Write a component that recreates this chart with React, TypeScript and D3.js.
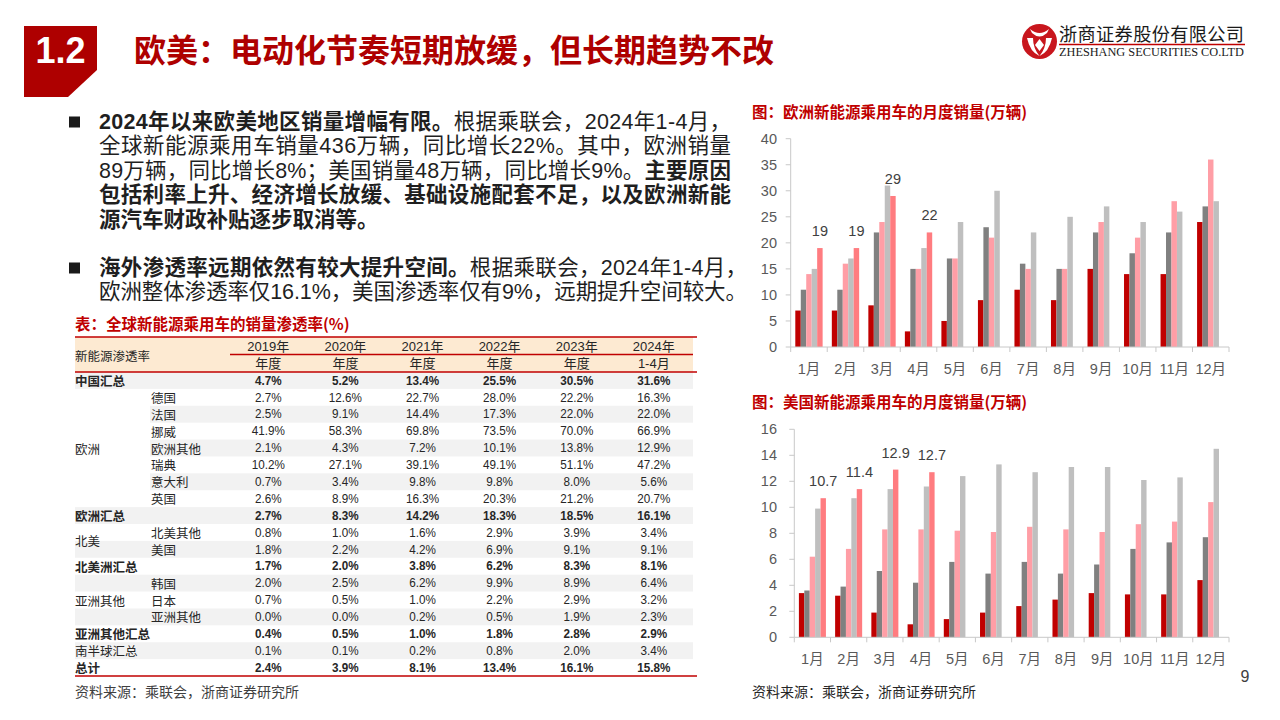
import React from 'react';
import * as d3 from 'd3';

// ---------- data ----------
const months = ["1月", "2月", "3月", "4月", "5月", "6月", "7月", "8月", "9月", "10月", "11月", "12月"];
const seriesKeys = ["2020", "2021", "2022", "2023", "2024"];
const seriesColors = ["#C00000", "#808080", "#FF9EA6", "#BFBFBF", "#FF7C80"];

const eu2020 = [7, 7, 8, 3, 5, 9, 11, 9, 15, 14, 14, 24];
const eu2021 = [11, 11, 22, 15, 17, 23, 16, 15, 22, 18, 22, 27];
const eu2022 = [14, 16, 24, 15, 17, 21, 15, 15, 24, 21, 28, 36];
const eu2023 = [15, 17, 31, 19, 24, 30, 22, 25, 27, 24, 26, 28];
const eu2024 = [19, 19, 29, 22];
const euTicks = [0, 5, 10, 15, 20, 25, 30, 35, 40];

const us2020 = [3.4, 3.2, 1.9, 1.0, 1.4, 1.9, 2.4, 2.9, 3.4, 3.3, 3.3, 4.4];
const us2021 = [3.6, 3.9, 5.1, 4.2, 5.8, 4.9, 5.8, 4.9, 5.6, 6.8, 7.3, 7.7];
const us2022 = [6.2, 6.8, 8.3, 8.3, 8.2, 8.1, 8.5, 8.3, 8.1, 8.7, 8.9, 10.4];
const us2023 = [9.9, 10.7, 11.4, 11.6, 12.4, 13.3, 12.7, 13.1, 13.1, 12.1, 12.3, 14.5];
const us2024 = [10.7, 11.4, 12.9, 12.7];
const usTicks = [0, 2, 4, 6, 8, 10, 12, 14, 16];

const tableYears = ["2019年", "2020年", "2021年", "2022年", "2023年", "2024年"];
const tablePeriods = ["年度", "年度", "年度", "年度", "年度", "1-4月"];
const tableRowNames = ["中国汇总", "德国", "法国", "挪威", "欧洲其他", "瑞典", "意大利", "英国", "欧洲汇总", "北美其他", "美国", "北美洲汇总", "韩国", "日本", "亚洲其他", "亚洲其他汇总", "南半球汇总", "总计"];
const tableValues = [
  ["4.7%", "5.2%", "13.4%", "25.5%", "30.5%", "31.6%"],
  ["2.7%", "12.6%", "22.7%", "28.0%", "22.2%", "16.3%"],
  ["2.5%", "9.1%", "14.4%", "17.3%", "22.0%", "22.0%"],
  ["41.9%", "58.3%", "69.8%", "73.5%", "70.0%", "66.9%"],
  ["2.1%", "4.3%", "7.2%", "10.1%", "13.8%", "12.9%"],
  ["10.2%", "27.1%", "39.1%", "49.1%", "51.1%", "47.2%"],
  ["0.7%", "3.4%", "9.8%", "9.8%", "8.0%", "5.6%"],
  ["2.6%", "8.9%", "16.3%", "20.3%", "21.2%", "20.7%"],
  ["2.7%", "8.3%", "14.2%", "18.3%", "18.5%", "16.1%"],
  ["0.8%", "1.0%", "1.6%", "2.9%", "3.9%", "3.4%"],
  ["1.8%", "2.2%", "4.2%", "6.9%", "9.1%", "9.1%"],
  ["1.7%", "2.0%", "3.8%", "6.2%", "8.3%", "8.1%"],
  ["2.0%", "2.5%", "6.2%", "9.9%", "8.9%", "6.4%"],
  ["0.7%", "0.5%", "1.0%", "2.2%", "2.9%", "3.2%"],
  ["0.0%", "0.0%", "0.2%", "0.5%", "1.9%", "2.3%"],
  ["0.4%", "0.5%", "1.0%", "1.8%", "2.8%", "2.9%"],
  ["0.1%", "0.1%", "0.2%", "0.8%", "2.0%", "3.4%"],
  ["2.4%", "3.9%", "8.1%", "13.4%", "16.1%", "15.8%"],
];
const summaryRows = [0, 8, 11, 15, 16, 17];
const boldRows = [0, 8, 11, 15, 17];
const groupLabels = ["欧洲", "北美", "亚洲其他"];
const groupFrom = [1, 9, 12];
const groupTo = [7, 10, 14];

// ---------- styles ----------
const FONT = "'Liberation Sans', 'Noto Sans CJK SC', sans-serif";
const CJK = "'Noto Sans CJK SC', 'Liberation Sans', sans-serif";
const RED = "#C00000";
const TITLE_RED = "#AE0000";

type Seg = { t: string; b: boolean };
const para1: Seg[][] = [
  [{ t: "2024年以来欧美地区销量增幅有限。", b: true }, { t: "根据乘联会，2024年1-4月，", b: false }],
  [{ t: "全球新能源乘用车销量436万辆，同比增长22%。其中，欧洲销量", b: false }],
  [{ t: "89万辆，同比增长8%；美国销量48万辆，同比增长9%。", b: false }, { t: "主要原因", b: true }],
  [{ t: "包括利率上升、经济增长放缓、基础设施配套不足，以及欧洲新能", b: true }],
  [{ t: "源汽车财政补贴逐步取消等。", b: true }],
];
const para2: Seg[][] = [
  [{ t: "海外渗透率远期依然有较大提升空间。", b: true }, { t: "根据乘联会，2024年1-4月，", b: false }],
  [{ t: "欧洲整体渗透率仅16.1%，美国渗透率仅有9%，远期提升空间较大。", b: false }],
];

function TextLine({ segs, x, y, len }: { segs: Seg[]; x: number; y: number; len?: number }) {
  return (
    <text x={x} y={y} fontFamily={FONT} fontSize={21.5} fill="#1F1F1F" dominantBaseline="central"
      {...(len ? { textLength: len, lengthAdjust: "spacing" } : {})}>
      {segs.map((s, i) => (
        <tspan key={i} fontWeight={s.b ? 700 : 400}>{s.t}</tspan>
      ))}
    </text>
  );
}

type ChartProps = {
  left: number; right: number; zeroY: number; topY: number; maxV: number;
  ticks: number[]; series: number[][]; labelSeries: number[]; monthY: number;
  fmt: (v: number) => string;
};

function BarChart({ left, right, zeroY, topY, maxV, ticks, series, labelSeries, monthY, fmt }: ChartProps) {
  const x = d3.scaleBand<string>().domain(months).range([left, right]);
  const bw = x.bandwidth();
  const inner = d3.scaleBand<string>().domain(seriesKeys).range([4.6, bw - 4.6]);
  const y = d3.scaleLinear().domain([0, maxV]).range([zeroY, topY]);
  const axisColor = "#C8C8C8";
  return (
    <g>
      {/* y axis */}
      <line x1={left} x2={left} y1={y(maxV)} y2={y(0)} stroke={axisColor} strokeWidth={1} />
      {ticks.map((t) => (
        <g key={t}>
          <line x1={left - 5} x2={left} y1={y(t)} y2={y(t)} stroke={axisColor} strokeWidth={1} />
          <text x={777} y={y(t)} textAnchor="end" dominantBaseline="central" fontFamily={FONT} fontSize={14.5} fill="#595959">{t}</text>
        </g>
      ))}
      {/* bars */}
      {series.map((vals, si) =>
        vals.map((v, mi) => (
          <rect key={`${si}-${mi}`} x={(x(months[mi]) as number) + (inner(seriesKeys[si]) as number)}
            y={y(v)} width={inner.bandwidth()} height={y(0) - y(v)} fill={seriesColors[si]} />
        ))
      )}
      {/* x axis */}
      <line x1={left} x2={right} y1={zeroY} y2={zeroY} stroke={axisColor} strokeWidth={1} />
      {months.map((m) => (
        <line key={m} x1={x(m) as number} x2={x(m) as number} y1={zeroY} y2={zeroY + 5} stroke={axisColor} />
      ))}
      <line x1={right} x2={right} y1={zeroY} y2={zeroY + 5} stroke={axisColor} />
      {months.map((m) => (
        <text key={m} x={(x(m) as number) + bw / 2} y={monthY} textAnchor="middle" dominantBaseline="central"
          fontFamily={FONT} fontSize={14.5} fill="#595959">{m}</text>
      ))}
      {/* data labels */}
      {labelSeries.map((v, mi) => (
        <text key={mi} x={(x(months[mi]) as number) + (inner(seriesKeys[4]) as number) + inner.bandwidth() / 2}
          y={y(v) - 17} textAnchor="middle" dominantBaseline="central" fontFamily={FONT} fontSize={14.5} fill="#404040">{fmt(v)}</text>
      ))}
    </g>
  );
}

function Table() {
  const colX = (i: number) => 268.3 + i * 77.1;
  const rowTop = 372;
  const rowH = (676 - 372) / tableRowNames.length;
  const inEurope = (r: number) => r >= groupFrom[0] && r <= groupTo[0];
  return (
    <g>
      <text x={75} y={323} fontFamily={CJK} fontWeight={700} fontSize={15.5} fill={RED} dominantBaseline="central">表：全球新能源乘用车的销量渗透率(%)</text>
      <rect x={75} y={337} width={618} height={35} fill="#FDEAD2" />
      {tableRowNames.map((_, r) => (r % 2 === 0 ? (
        <rect key={r} x={inEurope(r) ? 150 : 75} y={rowTop + r * rowH} width={inEurope(r) ? 543 : 618} height={rowH} fill="#F2F2F2" />
      ) : null))}
      <line x1={75} x2={697} y1={337} y2={337} stroke={RED} strokeWidth={1.5} />
      <line x1={230} x2={693} y1={354.5} y2={354.5} stroke={RED} strokeWidth={1.3} />
      <line x1={75} x2={697} y1={372} y2={372} stroke={RED} strokeWidth={1.5} />
      <text x={75} y={355} fontFamily={CJK} fontSize={12.5} fill="#262626" dominantBaseline="central">新能源渗透率</text>
      {tableYears.map((t, i) => (
        <text key={t} x={colX(i)} y={346.5} textAnchor="middle" dominantBaseline="central" fontFamily={FONT} fontSize={13} fill="#262626">{t}</text>
      ))}
      {tablePeriods.map((t, i) => (
        <text key={i} x={colX(i)} y={363.5} textAnchor="middle" dominantBaseline="central" fontFamily={FONT} fontSize={13} fill="#262626">{t}</text>
      ))}
      {tableRowNames.map((name, r) => {
        const cy = rowTop + r * rowH + rowH / 2;
        const bold = boldRows.includes(r);
        const isSum = summaryRows.includes(r);
        return (
          <g key={name + r}>
            <text x={isSum ? 75 : 151} y={cy} dominantBaseline="central" fontFamily={CJK} fontSize={12.5}
              fontWeight={bold ? 700 : 400} fill="#262626">{name}</text>
            {tableValues[r].map((v, i) => (
              <text key={i} transform={`translate(${colX(i)},${cy}) scale(0.9,1)`} textAnchor="middle" dominantBaseline="central"
                fontFamily={FONT} fontSize={13} fontWeight={bold ? 700 : 400} fill="#262626">{v}</text>
            ))}
          </g>
        );
      })}
      {groupLabels.map((g, i) => {
        const cy = rowTop + ((groupFrom[i] + groupTo[i] + 1) / 2) * rowH;
        return (
          <text key={g} x={75} y={cy} dominantBaseline="central" fontFamily={CJK} fontSize={12.5} fill="#262626">{g}</text>
        );
      })}
      <line x1={75} x2={697} y1={676} y2={676} stroke={RED} strokeWidth={1.5} />
      <text x={75} y={691} fontFamily={CJK} fontSize={14} fill="#404040" dominantBaseline="central">资料来源：乘联会，浙商证券研究所</text>
    </g>
  );
}

function Logo() {
  return (
    <g>
      <circle cx={1039.5} cy={41.5} r={17.5} fill="#C8161D" />
      <path d="M1030,29 Q1039.5,37 1049,29 L1047,33 Q1039.5,40 1032,33 Z" fill="#fff" />
      <path d="M1027,38 Q1030,52 1039.5,56 Q1033,48 1033,38 Z" fill="#fff" />
      <path d="M1052,38 Q1049,52 1039.5,56 Q1046,48 1046,38 Z" fill="#fff" />
      <path d="M1039.5,39 L1044,45 L1039.5,51 L1035,45 Z" fill="#fff" />
      <text x={1059} y={33} fontFamily={CJK} fontSize={18.2} fill="#1A1A1A" dominantBaseline="central" textLength={185} lengthAdjust="spacing">浙商证券股份有限公司</text>
      <line x1={1059} x2={1245} y1={44.5} y2={44.5} stroke="#C00000" strokeWidth={1.5} />
      <text x={1059} y={51.5} fontFamily="'Liberation Serif', 'DejaVu Serif', serif" fontSize={12} fill="#1A1A1A" dominantBaseline="central" textLength={185} lengthAdjust="spacingAndGlyphs">ZHESHANG SECURITIES CO.LTD</text>
    </g>
  );
}

export default function App() {
  const p1Y = [122, 146.4, 170.8, 195.2, 219.6];
  const p2Y = [268, 292.4];
  return (
    <svg width={1280} height={720} style={{ position: 'absolute', left: 0, top: 0, background: '#fff' }}>
      <rect x={0} y={0} width={1280} height={720} fill="#fff" />
      {/* header */}
      <polygon points="24,26 97,26 97,70 68,97 24,97" fill={TITLE_RED} />
      <text x={60.5} y={63} textAnchor="middle" fontFamily="'Liberation Sans', Arial, sans-serif" fontWeight={700} fontSize={36} fill="#fff">1.2</text>
      <text x={134} y={48} fontFamily={CJK} fontWeight={700} fontSize={32} fill={TITLE_RED} dominantBaseline="central">欧美：电动化节奏短期放缓，但长期趋势不改</text>
      <Logo />

      {/* bullets */}
      <rect x={69} y={116.5} width={11} height={11} fill="#1A1A1A" />
      <rect x={69} y={262.5} width={11} height={11} fill="#1A1A1A" />
      {para1.map((segs, i) => (
        <TextLine key={i} segs={segs} x={99} y={p1Y[i]} len={i < 4 ? 632 : undefined} />
      ))}
      {para2.map((segs, i) => (
        <TextLine key={i} segs={segs} x={99} y={p2Y[i]} len={648} />
      ))}

      <Table />

      {/* Europe chart */}
      <text x={752} y={110.5} fontFamily={CJK} fontWeight={700} fontSize={15.5} fill={RED} dominantBaseline="central">图：欧洲新能源乘用车的月度销量(万辆)</text>
      <BarChart left={790.7} right={1229} zeroY={347} topY={138.7} maxV={40} ticks={euTicks}
        series={[eu2020, eu2021, eu2022, eu2023, eu2024]} labelSeries={eu2024} monthY={369} fmt={(v) => String(v)} />

      {/* US chart */}
      <text x={752} y={400.5} fontFamily={CJK} fontWeight={700} fontSize={15.5} fill={RED} dominantBaseline="central">图：美国新能源乘用车的月度销量(万辆)</text>
      <BarChart left={794.3} right={1229} zeroY={637.3} topY={429.3} maxV={16} ticks={usTicks}
        series={[us2020, us2021, us2022, us2023, us2024]} labelSeries={us2024} monthY={659} fmt={(v) => v.toFixed(1)} />

      <text x={752} y={691} fontFamily={CJK} fontSize={14} fill="#262626" dominantBaseline="central">资料来源：乘联会，浙商证券研究所</text>
      <text x={1245} y={676} textAnchor="middle" fontFamily={FONT} fontSize={16} fill="#404040" dominantBaseline="central">9</text>
    </svg>
  );
}
